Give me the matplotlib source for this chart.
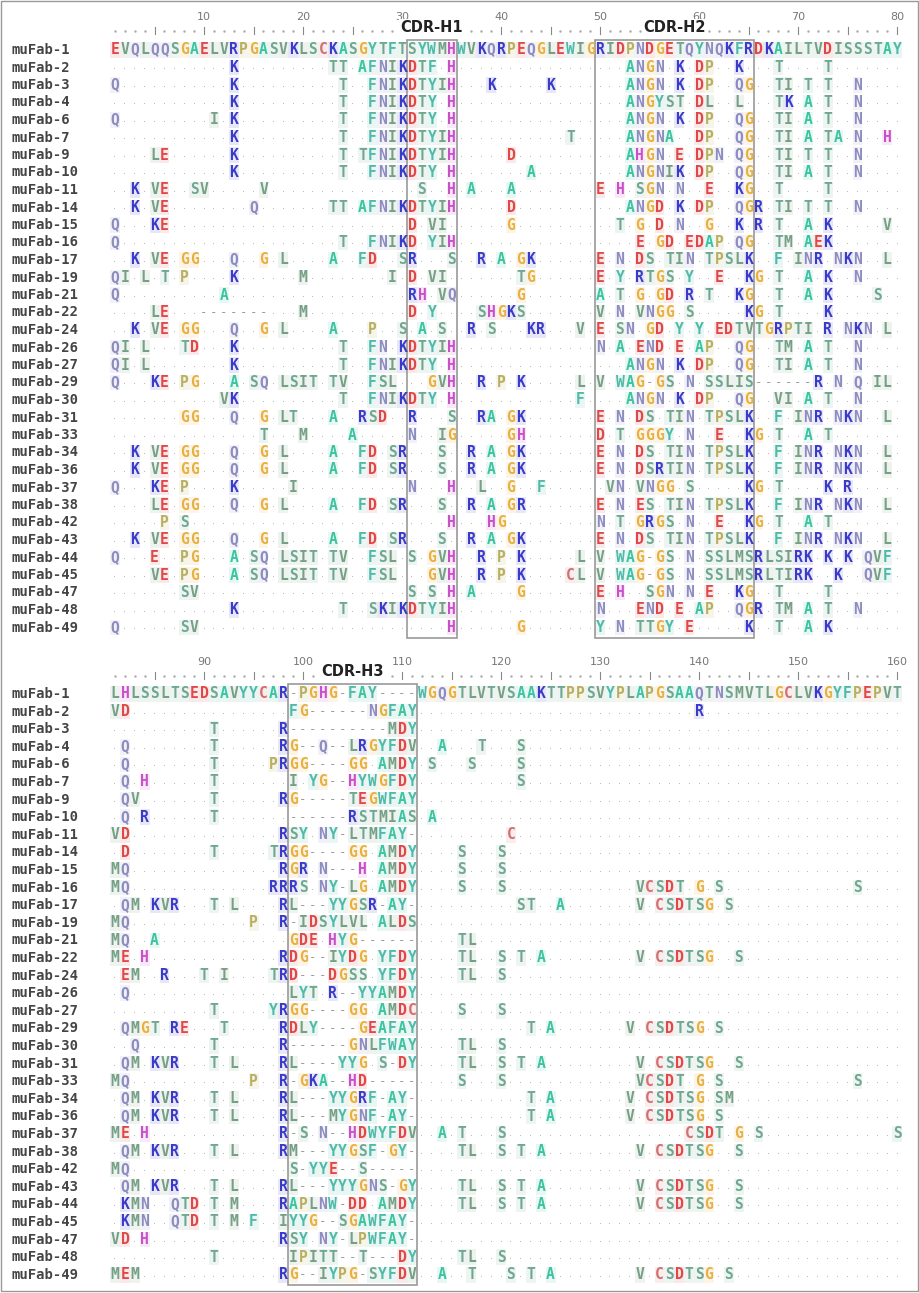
import matplotlib
matplotlib.use("Agg")
import matplotlib.pyplot as plt
from matplotlib.patches import Rectangle

# ---- data -----------------------------------------------------------------
names = ["muFab-1", "muFab-2", "muFab-3", "muFab-4", "muFab-6", "muFab-7", "muFab-9",
         "muFab-10", "muFab-11", "muFab-14", "muFab-15", "muFab-16", "muFab-17", "muFab-19",
         "muFab-21", "muFab-22", "muFab-24", "muFab-26", "muFab-27", "muFab-29", "muFab-30",
         "muFab-31", "muFab-33", "muFab-34", "muFab-36", "muFab-37", "muFab-38", "muFab-42",
         "muFab-43", "muFab-44", "muFab-45", "muFab-47", "muFab-48", "muFab-49"]

# positions 1-80, '.' = identical to muFab-1
top_seqs = [
    "EVQLQQSGAE LVRPGASVKL SCKASGYTFT SYWMHWVKQR PEQGLEWIGR IDPNDGETQY NQKFRDKAIL TVDISSSTAY",
    ".......... ..K....... ..TT.AFNIK DTF.H..... .......... ..ANGN.K.D P..K...T.. ..T.......",
    "Q......... ..K....... ...T..FNIK DTYIH...K. ....K..... ..ANGN.K.D P..QG..TI. T.T..N....",
    ".......... ..K....... ...T..FNIK DTY.H..... .......... ..ANGYST.D L..L...TK. A.T..N....",
    "Q......... I.K....... ...T..FNIK DTY.H..... .......... ..ANGN.K.D P..QG..TI. A.T..N....",
    ".......... ..K....... ...T..FNIK DTYIH..... ......T... ..ANGNA..D P..QG..TI. A.TA.N..H.",
    "....LE.... ..K....... ...T.TFNIK DTYIH..... D......... ..AHGN.E.D PN.QG..TI. T.T..N....",
    ".......... ..K....... ...T..FNIK DTY.H..... ..A....... ..ANGNIK.D P..QG..TI. A.T..N....",
    "..K.VE..SV .....V.... .......... .S..H.A... A........E .H.SGN.N.. E..KG..T.. ..T.......",
    "..K.VE.... ....Q..... ..TT.AFNIK DTYIH..... D......... ..ANGD.K.D P..QGR.TI. T.T..N....",
    "Q...KE.... .......... .......... D.VI...... G......... .T.G.D.N.. G..K.R.T.. A.K.....V.",
    "Q......... .......... ...T..FNIK D.YIH..... .......... ...E.GD.ED AP.QG..TM. AEK.......",
    "..K.VE.GG. ..Q..G.L.. ..A..FD..S R...S..R.A .GK......E .N.DS.TIN. TPSLK..F.I NR.NKN..L.",
    "QI.L.T.P.. ..K......M ........I. D.VI...... .TG......E .Y.RTGS.Y. .E..KG.T.. A.K..N....",
    "Q......... .A........ .......... RH.VQ..... .G.......A .T.G.GD.R. T..KG..T.. A.K....S..",
    "....LE...- ------...M .......... D.Y....SHG KS.......V .N.VNGG.S. ....KG.T.. ..K.......",
    "..K.VE.GG. ..Q..G.L.. ..A...P..S .A.S..R.S. ..KR...V.E .SN.GD.Y.Y .EDTVTGRPT I.R.NKN.L.",
    "QI.L...TD. ..K....... ...T..FN.K DTYIH..... .........N .A.END.E.A P..QG..TM. A.T..N....",
    "QI.L...... ..K....... ...T..FNIK DTY.H..... .......... ..ANGN.K.D P..QG..TI. A.T..N....",
    "Q...KE.PG. ..A.SQ.LSI T.TV..FSL. ..GVH..R.P .K.....L.V .WAG-GS.N. SSLIS----- -R.N.Q.IL.",
    ".......... .VK....... ...T..FNIK DTY.H..... .......F.. ..ANGN.K.D P..QG..VI. A.T..N....",
    ".......GG. ..Q..G.LT. ..A..RSD.. R...S..RA. GK.......E .N.DS.TIN. TPSLK..F.I NR.NKN..L.",
    ".......... .....T...M ....A..... N..IG..... GH.......D .T.GGGY.N. .E..KG.T.. A.T.......",
    "..K.VE.GG. ..Q..G.L.. ..A..FD.SR ...S..R.A. GK.......E .N.DS.TIN. TPSLK..F.I NR.NKN..L.",
    "..K.VE.GG. ..Q..G.L.. ..A..FD.SR ...S..R.A. GK.......E .N.DSRTIN. TPSLK..F.I NR.NKN..L.",
    "Q...KE.P.. ..K.....I. .......... N...H..L.. G..F...... VN.VNGG.S. ....KG.T.. ..K.R.....",
    "....LE.GG. ..Q..G.L.. ..A..FD.SR ...S..R.A. GR.......E .N.ES.TIN. TPSLK..F.I NR.NKN..L.",
    ".....P.S.. .......... .......... ....H...HG .........N .T.GRGS.N. .E..KG.T.. A.T.......",
    "..K.VE.GG. ..Q..G.L.. ..A..FD.SR ...S..R.A. GK.......E .N.DS.TIN. TPSLK..F.I NR.NKN..L.",
    "Q...E..PG. ..A.SQ.LSI T.TV..FSL. S.GVH..R.P .K.....L.V .WAG-GS.N. SSLMSRLSIR K.K.K.QVF.",
    "....VE.PG. ..A.SQ.LSI T.TV..FSL. ..GVH..R.P .K....CL.V .WAG-GS.N. SSLMSRLTIR K..K..QVF.",
    ".......SV. .......... .......... S.S.H.A... .G.......E .H..SGN.N. E..KG..T.. ..T.......",
    ".......... ..K....... ...T..SKIK DTYIH..... .........N ...END.E.A P..QGR.TM. A.T..N....",
    "Q......SV. .......... .......... ....H..... .G.......Y .N.TTGY.E. ....K..T.. A.K.......",
]

# positions 81-160 as (81-98, 99-111 CDR-H3, 112-160)
bot_pre = ["LHLSSLTSEDSAVYYCAR", "VD", "..........T......R", ".Q........T......R",
           ".Q........T.....PR", ".Q.H......T.......", ".QV.......T......R", ".Q.R......T.......",
           "VD...............R", ".D........T.....TR", "MQ...............R", "MQ..............RR",
           ".QM.KVR...T.L....R", "MQ............P..R", "MQ..A.............", "ME.H.............R",
           ".EM..R...T.I....TR", ".Q................", "..........T.....YR", ".QMGT.RE...T.....R",
           "..Q.......T......R", ".QM.KVR...T.L....R", "MQ............P..R", ".QM.KVR...T.L....R",
           ".QM.KVR...T.L....R", "ME.H.............R", ".QM.KVR...T.L....R", "MQ................",
           ".QM.KVR...T.L....R", ".KMN..QTD.T.M....R", ".KMN..QTD.T.M.F..I", "VD.H.............R",
           "..........T.......", "MEM..............R"]
bot_cdr = ["-PGHG-FAY----", "FG------NGFAY", "----------MDY", "G--Q--LRGYFDV", "GG----GG.AMDY",
           "I.YG--HYWGFDY", "G-----TEGWFAY", "------RSTMIAS", "SY.NY-LTMFAY-", "GG----GG.AMDY",
           "GR.N---H.AMDY", "RS.NY-LG.AMDY", "L---YYGSR-AY-", "-IDSYLVL.ALDS", "GDE.HYG------",
           "DG--IYDG.YFDY", "D---DGSS.YFDY", "LYT.R--YYAMDY", "GG----GG.AMDC", "DLY----GEAFAY",
           "------GNLFWAY", "L----YYG.S-DY", "-GKA--HD-----", "L---YYGRF-AY-", "L---MYGNF-AY-",
           "-S.N--HDWYFDV", "M---YYGSF-GY-", "S-YYE--S-----", "L---YYYGNS-GY", "APLNW-DD.AMDY",
           "YYG--SGAWFAY-", "SY.NY-LPWFAY-", "IPITT--T---DY", "G--IYPG-SYFDV"]
tail_a = "....TL..S.T.A.........V.CSDTSG..S"
tail_b = "....S...S.............VCSDT.G.S.............S"
bot_tail = ["WGQGTLVTVSAAKTTPPSVYPLAPGSAAQTNSMVTLGCLVKGYFPEPVT",
            "............................R", "", "..A...T...S", ".S...S....S", "..........S", "",
            ".A", ".........C", "....S...S", "....S...S", tail_b,
            "..........ST..A.......V.CSDTSG.S", "", "....TL", tail_a, "....TL..S", "",
            "....S...S", "...........T.A.......V.CSDTSG.S", "....TL..S", tail_a, tail_b,
            "...........T.A.......V.CSDTSG.SM", "...........T.A.......V.CSDTSG.S",
            "..A.T...S..................CSDT.G.S.............S", tail_a, "", tail_a, tail_a,
            "", "", "....TL..S", "..A..T...S.T.A........V.CSDTSG.S"]

top_ticks = [10, 20, 30, 40, 50, 60, 70, 80]
bot_ticks = [90, 100, 110, 120, 130, 140, 150, 160]

colors = {}
for aa in "RK":
    colors[aa] = "#3a3ac8"
for aa in "DE":
    colors[aa] = "#e04848"
for aa in "NQ":
    colors[aa] = "#8c8cc0"
for aa in "ST":
    colors[aa] = "#6fa890"
for aa in "VILM":
    colors[aa] = "#75a085"
for aa in "FWY":
    colors[aa] = "#4fbaa8"
colors.update({"A": "#3cc4a0", "G": "#e8b040", "P": "#b8b060", "H": "#c850c8", "C": "#d07070"})


def fix(s, n):
    return s.replace(" ", "").ljust(n, ".")[:n]


top_rows = [fix(s, 80) for s in top_seqs]
bot_rows = [fix(a, 18) + fix(b, 13) + fix(c, 49) for a, b, c in zip(bot_pre, bot_cdr, bot_tail)]

# ---- drawing ----------------------------------------------------------------
W, H = 920, 1293
fig = plt.figure(figsize=(W / 100, H / 100), dpi=100)
ax = fig.add_axes([0, 0, 1, 1])
ax.set_xlim(0, W)
ax.set_ylim(H, 0)
ax.axis("off")
ax.add_patch(Rectangle((1, 1), W - 3, H - 3, fill=False, ec="#999999", lw=1))

X0, DX = 115, 9.9
mono = "DejaVu Sans Mono"


def draw_block(rows, start, y0, dy, ticks, ruler_y):
    n = len(rows[0])
    # ruler
    for i in range(n):
        p = start + i
        x = X0 + i * DX
        if p % 5 == 0:
            ax.plot([x, x], [ruler_y - 4, ruler_y + 3], color="#888888", lw=0.8)
        else:
            ax.plot(x, ruler_y, marker=".", ms=1.5, color="#aaaaaa")
    for t in ticks:
        ax.text(X0 + (t - start) * DX, ruler_y - 14, str(t), ha="center", va="center",
                fontsize=8, color="#777777")
    for r, (name, seq) in enumerate(zip(names, rows)):
        y = y0 + r * dy
        ax.text(12, y, name, ha="left", va="center", fontsize=10, fontweight="bold",
                family=mono, color="#444444")
        for i, ch in enumerate(seq):
            x = X0 + i * DX
            if ch == ".":
                ax.text(x, y + 2, "·", ha="center", va="center", fontsize=7, color="#aaaaaa")
            elif ch == "-":
                ax.text(x, y, "-", ha="center", va="center", fontsize=9, family=mono,
                        color="#999999")
            else:
                c = colors.get(ch, "#777777")
                ax.add_patch(Rectangle((x - DX / 2, y - dy / 2 + 1), DX, dy - 2,
                                       color=c, alpha=0.12, lw=0))
                ax.text(x, y, ch, ha="center", va="center", fontsize=10.5, fontweight="bold",
                        family=mono, color=c)


def cdr_box(p1, p2, start, y1, y2, label):
    xa = X0 + (p1 - start) * DX - DX / 2
    xb = X0 + (p2 - start) * DX + DX / 2
    ax.add_patch(Rectangle((xa, y1), xb - xa, y2 - y1, fill=False, ec="#999999", lw=1.2))
    ax.text((xa + xb) / 2, y1 - 12, label, ha="center", va="center", fontsize=10.5,
            fontweight="bold", color="#222222",
            bbox=dict(fc="white", ec="none", pad=1))


draw_block(top_rows, 1, 50, 17.5, top_ticks, 31)
draw_block(bot_rows, 81, 694, 17.6, bot_ticks, 676)
cdr_box(31, 35, 1, 40, 638, "CDR-H1")
cdr_box(50, 65, 1, 40, 638, "CDR-H2")
cdr_box(99, 111, 81, 684, 1285, "CDR-H3")

plt.savefig("out.png", dpi=100)
plt.close()
